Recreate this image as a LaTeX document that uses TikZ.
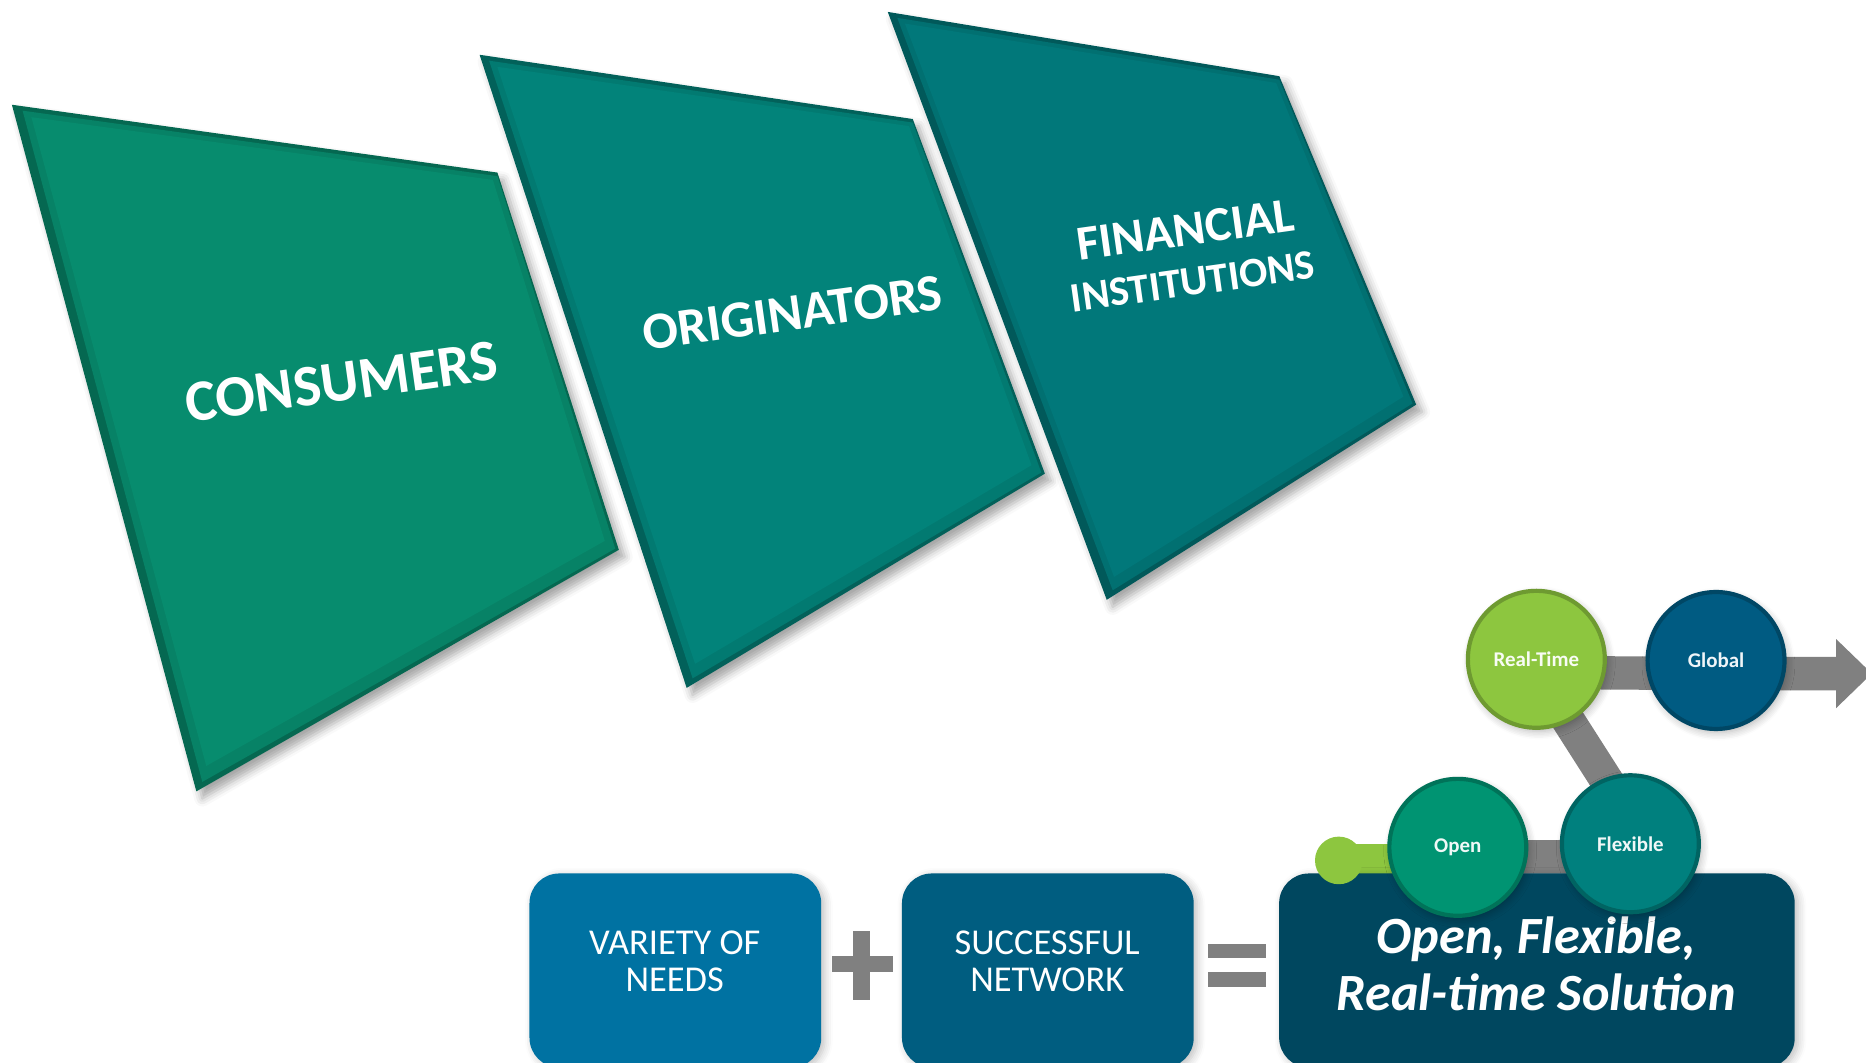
\documentclass[tikz,border=0pt]{standalone}
\usepackage{fontspec}
\setmainfont{Carlito}
\usetikzlibrary{arrows.meta,calc,shadows.blur}

\definecolor{consFace}{HTML}{078C6E}
\definecolor{origFace}{HTML}{02837A}
\definecolor{finFace}{HTML}{01787A}
\definecolor{rtGreen}{HTML}{8DC63F}
\definecolor{globBlue}{HTML}{005B82}
\definecolor{openGreen}{HTML}{009472}
\definecolor{flexTeal}{HTML}{00807E}
\definecolor{barGray}{HTML}{808080}
\definecolor{needBlue}{HTML}{0072A2}
\definecolor{netBlue}{HTML}{005D80}
\definecolor{solBlue}{HTML}{00475F}

\begin{document}
\begin{tikzpicture}[x=0.01cm, y=-0.01cm,
    panelshadow/.style={blur shadow={shadow xshift=0.05cm, shadow yshift=-0.06cm, shadow opacity=35}},
    paneltext/.style={font=\bfseries, align=center, rotate=8, inner sep=0pt, text=white},
    ball/.style={circle, minimum size=1.15cm, inner sep=0pt, fill=#1, draw=#1!78!black,
      line width=1pt, text=white!94!#1, font=\fontsize{5}{6}\selectfont\bfseries,
      blur shadow={shadow xshift=0.02cm, shadow yshift=-0.03cm, shadow blur steps=6, shadow opacity=30}},
    bar/.style={line width=0.28cm, draw=barGray},
    tile/.style={rounded corners=0.25cm, inner sep=0pt, minimum width=2.45cm, minimum height=1.63cm,
      blur shadow={shadow xshift=0.03cm, shadow yshift=-0.02cm, shadow blur steps=5, shadow opacity=25}},
    tiletext/.style={text=white, align=center, inner sep=0pt, font=\fontsize{8.7}{8.9}\selectfont},
    sign/.style={fill=barGray}]
  \useasboundingbox (0,0) rectangle (1568,893);

  % the three slanted panels: side, bevel, then the face shrunk a little
  \foreach \a/\b/\c/\d/\fa/\fb/\fc/\fd/\col in {
      {10,88}/{418,145}/{520,462}/{165,665}/{19,93}/{418,148}/{517,461}/{170,657}/consFace,
      {403,46}/{767,100}/{878,398}/{577,578}/{411,51}/{767,103}/{875,397}/{582,570}/origFace,
      {746,10}/{1075,64}/{1190,340}/{930,504}/{754,15}/{1075,67}/{1187,339}/{935,496}/finFace}{
    \coordinate (mid) at ($(\a)!0.5!(\c)$);
    \fill[\col!74!black, panelshadow] (\a) -- (\b) -- (\c) -- (\d) -- cycle;
    \fill[\col!93!black] (\fa) -- (\fb) -- (\fc) -- (\fd) -- cycle;
    \fill[\col] ($(\fa)!0.03!(mid)$) -- ($(\fb)!0.025!(mid)$) -- ($(\fc)!0.035!(mid)$)
      -- ($(\fd)!0.035!(mid)$) -- cycle;
  }

  % panel labels
  \node[paneltext] (consLabel) at (287,321) {\fontsize{14}{16}\selectfont CONSUMERS};
  \node[paneltext] (origLabel) at (666,263) {\fontsize{12.5}{14}\selectfont ORIGINATORS};
  \node[paneltext] (finLabel) at (999,214) {\fontsize{11.7}{13.6}\selectfont FINANCIAL\\INSTITUTIONS};

  % bottom row: need + network = solution
  \node[tile, fill=needBlue] (need) at (567.5,815.5) {};
  \node[tiletext] (needText) at (567,808) {VARIETY OF\\NEEDS};
  \node[tile, fill=netBlue] (net) at (880.5,815.5) {};
  \node[tiletext] (netText) at (880,808) {SUCCESSFUL\\NETWORK};

  \fill[sign] (717,782) rectangle (731,840);
  \fill[sign] (699,803) rectangle (750,817);
  \fill[sign] (1015,793) rectangle (1064,805);
  \fill[sign] (1015,817) rectangle (1064,829);

  % the path through the balls
  \coordinate (rt) at (1291,554);
  \coordinate (gl) at (1442,555);
  \coordinate (op) at (1225,712);
  \coordinate (fl) at (1370,709);
  \coordinate (start) at (1125,723);
  \coordinate (tip) at (1573,566);

  \draw[bar] ([yshift=-0.11cm]rt) -- ([yshift=-0.11cm]gl);
  \draw[bar, -{Triangle[length=0.3cm, width=0.56cm]}] ([yshift=-0.11cm]gl) -- (tip);
  \draw[bar] ([xshift=-0.06cm]rt) -- ([xshift=0.14cm]fl);
  \draw[bar] ([yshift=-0.08cm]op) -- ([yshift=-0.11cm]fl);
  \draw[bar, draw=rtGreen] (start) -- (start -| op);

  \node[tile, fill=solBlue, minimum width=4.33cm] (sol) at (1291.5,815.5) {};
  \node[tiletext, font=\fontsize{12.5}{13.6}\selectfont\bfseries\itshape] (solText) at (1291,810)
    {Open, Flexible,\\Real-time Solution};

  % balls on top of the bars and the solution tile
  \node[circle, fill=rtGreen, minimum size=0.4cm, inner sep=0pt] (startDot) at (start) {};
  \node[ball=rtGreen] (realtime) at (rt) {Real-Time};
  \node[ball=globBlue] (global) at (gl) {Global};
  \node[ball=openGreen] (open) at (op) {Open};
  \node[ball=flexTeal] (flexible) at (fl) {Flexible};
\end{tikzpicture}
\end{document}
